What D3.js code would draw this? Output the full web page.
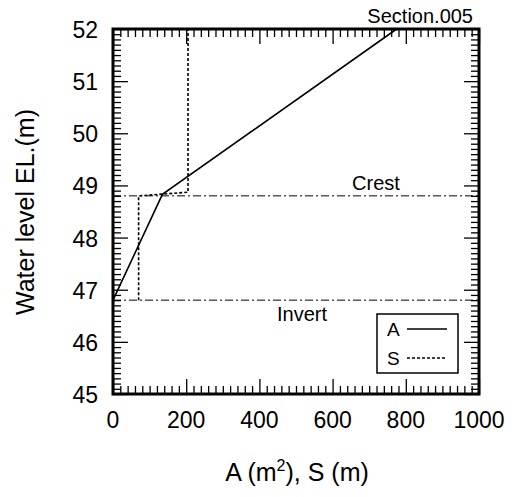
<!DOCTYPE html>
<html>
<head>
<meta charset="utf-8">
<script src="https://cdn.jsdelivr.net/npm/d3@7"></script>
<style>
  body { margin: 0; background: #fff; }
  svg { font-family: "Liberation Sans", Arial, Helvetica, sans-serif; }
  .frame { fill: none; stroke: #000; stroke-width: 3; }
  .tick line { stroke: #000; stroke-width: 1.3; }
</style>
</head>
<body>
<div id="chartdiv"></div>
<script>
// values
var areaX = [0, 135, 775];
var areaY = [46.8, 48.83, 52];
var widthX = [70, 70, 205, 205];
var widthY = [46.8, 48.8, 48.87, 52];
var xTicks = [0, 200, 400, 600, 800, 1000];
var yTicks = [45, 46, 47, 48, 49, 50, 51, 52];
var levelNames = ["Crest", "Invert"];
var levelValues = [48.8, 46.8];
var legendNames = ["A", "S"];

var plotLeft = 113, plotRight = 479, plotTop = 29, plotBottom = 394;

var svg = d3.select("div#chartdiv").append("svg")
    .attr("width", 515)
    .attr("height", 497);

var x = d3.scaleLinear().domain([0, 1000]).range([plotLeft, plotRight]);
var y = d3.scaleLinear().domain([45, 52]).range([plotBottom, plotTop]);

var xMinor = d3.range(0, 1001, 20).filter(function(v) { return v % 200 !== 0; });
var yMinor = d3.range(450, 521, 1).map(function(v) { return v / 10; })
    .filter(function(v) { return Math.abs(v - Math.round(v)) > 0.01; });

// major + minor ticks on all four sides, pointing inward
function drawAxis(axis, tr) {
  var g = svg.append("g").attr("transform", tr).call(axis);
  g.select(".domain").remove();
  g.selectAll("text").remove();
}
drawAxis(d3.axisBottom(x).tickValues(xTicks).tickSize(-15), "translate(0," + plotBottom + ")");
drawAxis(d3.axisBottom(x).tickValues(xMinor).tickSize(-8), "translate(0," + plotBottom + ")");
drawAxis(d3.axisTop(x).tickValues(xTicks).tickSize(-15), "translate(0," + plotTop + ")");
drawAxis(d3.axisTop(x).tickValues(xMinor).tickSize(-8), "translate(0," + plotTop + ")");
drawAxis(d3.axisLeft(y).tickValues(yTicks).tickSize(-15), "translate(" + plotLeft + ",0)");
drawAxis(d3.axisLeft(y).tickValues(yMinor).tickSize(-8), "translate(" + plotLeft + ",0)");
drawAxis(d3.axisRight(y).tickValues(yTicks).tickSize(-15), "translate(" + plotRight + ",0)");
drawAxis(d3.axisRight(y).tickValues(yMinor).tickSize(-8), "translate(" + plotRight + ",0)");

// tick labels
svg.selectAll("text.xlab")
    .data(xTicks)
    .enter()
    .append("text")
    .attr("x", function(d) { return x(d); })
    .attr("y", 428)
    .attr("text-anchor", "middle")
    .attr("font-size", 23)
    .text(function(d) { return d; });

svg.selectAll("text.ylab")
    .data(yTicks)
    .enter()
    .append("text")
    .attr("x", 98)
    .attr("y", function(d) { return y(d) + 9; })
    .attr("text-anchor", "end")
    .attr("font-size", 23)
    .text(function(d) { return d; });

// axis titles
var xt = svg.append("text")
    .attr("x", 297)
    .attr("y", 481)
    .attr("text-anchor", "middle")
    .attr("font-size", 25);
xt.append("tspan").text("A (m");
xt.append("tspan").attr("dy", -10).attr("font-size", 16).text("2");
xt.append("tspan").attr("dy", 10).text("), S (m)");

svg.append("text")
    .attr("transform", "translate(34,212) rotate(-90)")
    .attr("text-anchor", "middle")
    .attr("font-size", 25)
    .text("Water level EL.(m)");

svg.append("text")
    .attr("x", 473)
    .attr("y", 23)
    .attr("text-anchor", "end")
    .attr("font-size", 20)
    .text("Section.005");

// crest / invert lines
var levels = levelNames.map(function(n, i) { return {name: n, value: levelValues[i]}; });
svg.selectAll("line.level")
    .data(levels)
    .enter()
    .append("line")
    .attr("x1", plotLeft)
    .attr("x2", plotRight)
    .attr("y1", function(d) { return y(d.value); })
    .attr("y2", function(d) { return y(d.value); })
    .attr("stroke", "#000")
    .attr("stroke-width", 1)
    .attr("stroke-dasharray", "8,3,2,3");

svg.selectAll("text.level")
    .data(levels)
    .enter()
    .append("text")
    .attr("x", function(d, i) { return i === 0 ? 376 : 302; })
    .attr("y", function(d, i) { return i === 0 ? y(d.value) - 6 : y(d.value) + 21; })
    .attr("text-anchor", "middle")
    .attr("font-size", 20)
    .text(function(d) { return d.name; });

// series
var line = d3.line()
    .x(function(d) { return x(d[0]); })
    .y(function(d) { return y(d[1]); });

svg.append("path")
    .datum(widthX.map(function(v, i) { return [v, widthY[i]]; }))
    .attr("d", line)
    .attr("fill", "none")
    .attr("stroke", "#000")
    .attr("stroke-width", 1.6)
    .attr("stroke-dasharray", "3,2");

svg.append("path")
    .datum(areaX.map(function(v, i) { return [v, areaY[i]]; }))
    .attr("d", line)
    .attr("fill", "none")
    .attr("stroke", "#000")
    .attr("stroke-width", 1.6);

svg.append("rect")
    .attr("class", "frame")
    .attr("x", plotLeft)
    .attr("y", plotTop)
    .attr("width", plotRight - plotLeft)
    .attr("height", plotBottom - plotTop);

// legend
var legend = svg.append("g");
legend.append("rect")
    .attr("x", 377)
    .attr("y", 314)
    .attr("width", 81)
    .attr("height", 59)
    .attr("fill", "#fff")
    .attr("stroke", "#000")
    .attr("stroke-width", 1.5);

legendNames.forEach(function(n, i) {
  var ly = 329 + i * 29;
  legend.append("text")
      .attr("x", 387)
      .attr("y", ly + 7)
      .attr("font-size", 19)
      .text(n);
  legend.append("line")
      .attr("x1", 407)
      .attr("x2", 447)
      .attr("y1", ly)
      .attr("y2", ly)
      .attr("stroke", "#000")
      .attr("stroke-width", 1.5)
      .attr("stroke-dasharray", i === 0 ? null : "3,2");
});
</script>
</body>
</html>
